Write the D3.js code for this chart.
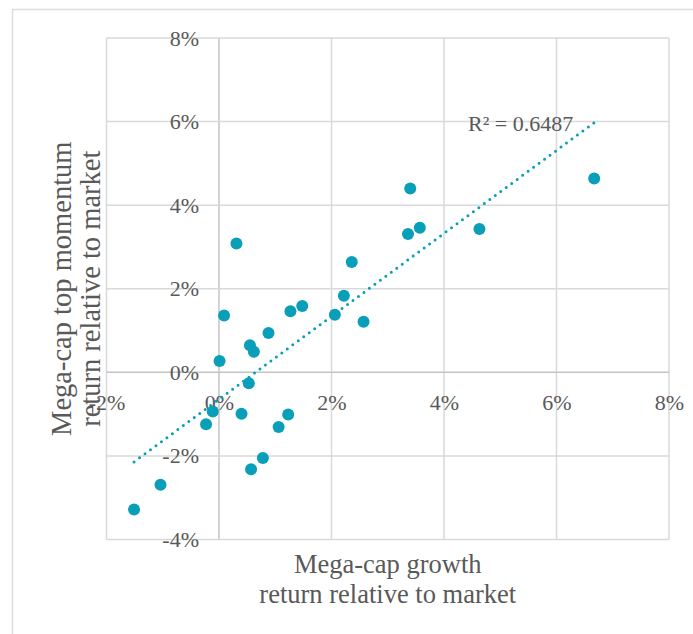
<!DOCTYPE html>
<html>
<head>
<meta charset="utf-8">
<script src="https://cdn.jsdelivr.net/npm/d3@7"></script>
<style>
  html, body { margin: 0; padding: 0; background: #ffffff; }
  svg { display: block; }
  text { font-family: "Liberation Serif", "DejaVu Serif", serif; fill: #595959; }
</style>
</head>
<body>
<svg id="chart" width="693" height="634"></svg>
<script>
// Mega-cap growth vs. mega-cap top momentum, returns relative to market (%)
const growthReturn = [
  -1.51, -1.04, -0.23, -0.11, 0.01, 0.09, 0.53, 0.40, 0.55, 0.62,
  0.57, 0.78, 0.88, 1.06, 1.23, 1.27, 1.48, 2.06, 2.22, 2.57,
  0.31, 2.36, 3.40, 3.36, 3.57, 4.63, 6.67
];
const momentumReturn = [
  -3.28, -2.69, -1.24, -0.94, 0.27, 1.36, -0.26, -0.99, 0.65, 0.49,
  -2.32, -2.05, 0.94, -1.31, -1.01, 1.46, 1.59, 1.38, 1.83, 1.21,
  3.08, 2.64, 4.40, 3.31, 3.46, 3.43, 4.64
];
const xTicks = [-2, 0, 2, 4, 6, 8];
const yTicks = [-4, -2, 0, 2, 4, 6, 8];
const rSquaredLabel = "R² = 0.6487";
const xTitleLines = ["Mega-cap growth", "return relative to market"];
const yTitleLines = ["Mega-cap top momentum", "return relative to market"];

const points = growthReturn.map((g, i) => ({ x: g, y: momentumReturn[i] }));

const svg = d3.select("#chart");
const W = 693, H = 634;
const plot = { left: 106.5, right: 669, top: 38, bottom: 539.5 };

const x = d3.scaleLinear().domain([-2, 8]).range([plot.left, plot.right]);
const y = d3.scaleLinear().domain([-4, 8]).range([plot.bottom, plot.top]);
const pct = d => d + "%";

// outer chart frame
svg.append("rect")
  .attr("x", 12.5).attr("y", 9.5)
  .attr("width", W).attr("height", H)
  .attr("fill", "none").attr("stroke", "#dcdcdc").attr("stroke-width", 1.5);

// gridlines
const grid = svg.append("g");
grid.selectAll("line.v").data(xTicks).join("line")
  .attr("x1", d => x(d)).attr("x2", d => x(d))
  .attr("y1", plot.top).attr("y2", plot.bottom)
  .attr("stroke", d => d === 0 ? "#c4c4c4" : "#d9d9d9")
  .attr("stroke-width", 1.5);
grid.selectAll("line.h").data(yTicks).join("line")
  .attr("y1", d => y(d)).attr("y2", d => y(d))
  .attr("x1", plot.left).attr("x2", plot.right)
  .attr("stroke", d => d === 0 ? "#c4c4c4" : "#d9d9d9")
  .attr("stroke-width", 1.5);

// axes cross at zero: y labels left of the vertical zero line, x labels under the horizontal one
function styleAxis(g) {
  g.attr("font-family", null).attr("font-size", null);
  g.select(".domain").remove();
  g.selectAll("text").attr("font-size", 22).attr("fill", "#595959");
}
const yAxis = d3.axisLeft(y).tickValues(yTicks).tickFormat(pct).tickSize(0).tickPadding(20);
svg.append("g").attr("transform", `translate(${x(0)},0)`).call(yAxis).call(styleAxis);

const xAxis = d3.axisBottom(x).tickValues(xTicks).tickFormat(pct).tickSize(0).tickPadding(22);
svg.append("g").attr("transform", `translate(0,${y(0)})`).call(xAxis).call(styleAxis);

// least-squares trendline over the data range
const mx = d3.mean(points, d => d.x), my = d3.mean(points, d => d.y);
const sxy = d3.sum(points, d => (d.x - mx) * (d.y - my));
const sxx = d3.sum(points, d => (d.x - mx) ** 2);
const slope = sxy / sxx, intercept = my - slope * mx;
const [xmin, xmax] = d3.extent(points, d => d.x);
svg.append("line")
  .attr("x1", x(xmin)).attr("y1", y(intercept + slope * xmin))
  .attr("x2", x(xmax)).attr("y2", y(intercept + slope * xmax))
  .attr("stroke", "#0a9fb8").attr("stroke-width", 3)
  .attr("stroke-linecap", "round").attr("stroke-dasharray", "0 6.8");

// scatter points
svg.append("g").selectAll("circle").data(points).join("circle")
  .attr("cx", d => x(d.x)).attr("cy", d => y(d.y)).attr("r", 6)
  .attr("fill", "#0a9fb8");

// R² annotation
svg.append("text")
  .attr("x", 468).attr("y", 131)
  .attr("font-size", 22)
  .text(rSquaredLabel);

// axis titles
const cx = (plot.left + plot.right) / 2;
svg.append("text").attr("text-anchor", "middle").attr("font-size", 26.5)
  .selectAll("tspan").data(xTitleLines).join("tspan")
  .attr("x", cx).attr("y", (d, i) => 573 + i * 30).text(d => d);

const cy = (plot.top + plot.bottom) / 2;
svg.append("text").attr("text-anchor", "middle").attr("font-size", 28.5)
  .attr("transform", `translate(0,${cy}) rotate(-90)`)
  .selectAll("tspan").data(yTitleLines).join("tspan")
  .attr("x", 0).attr("y", (d, i) => 71 + i * 29).text(d => d);
</script>
</body>
</html>
